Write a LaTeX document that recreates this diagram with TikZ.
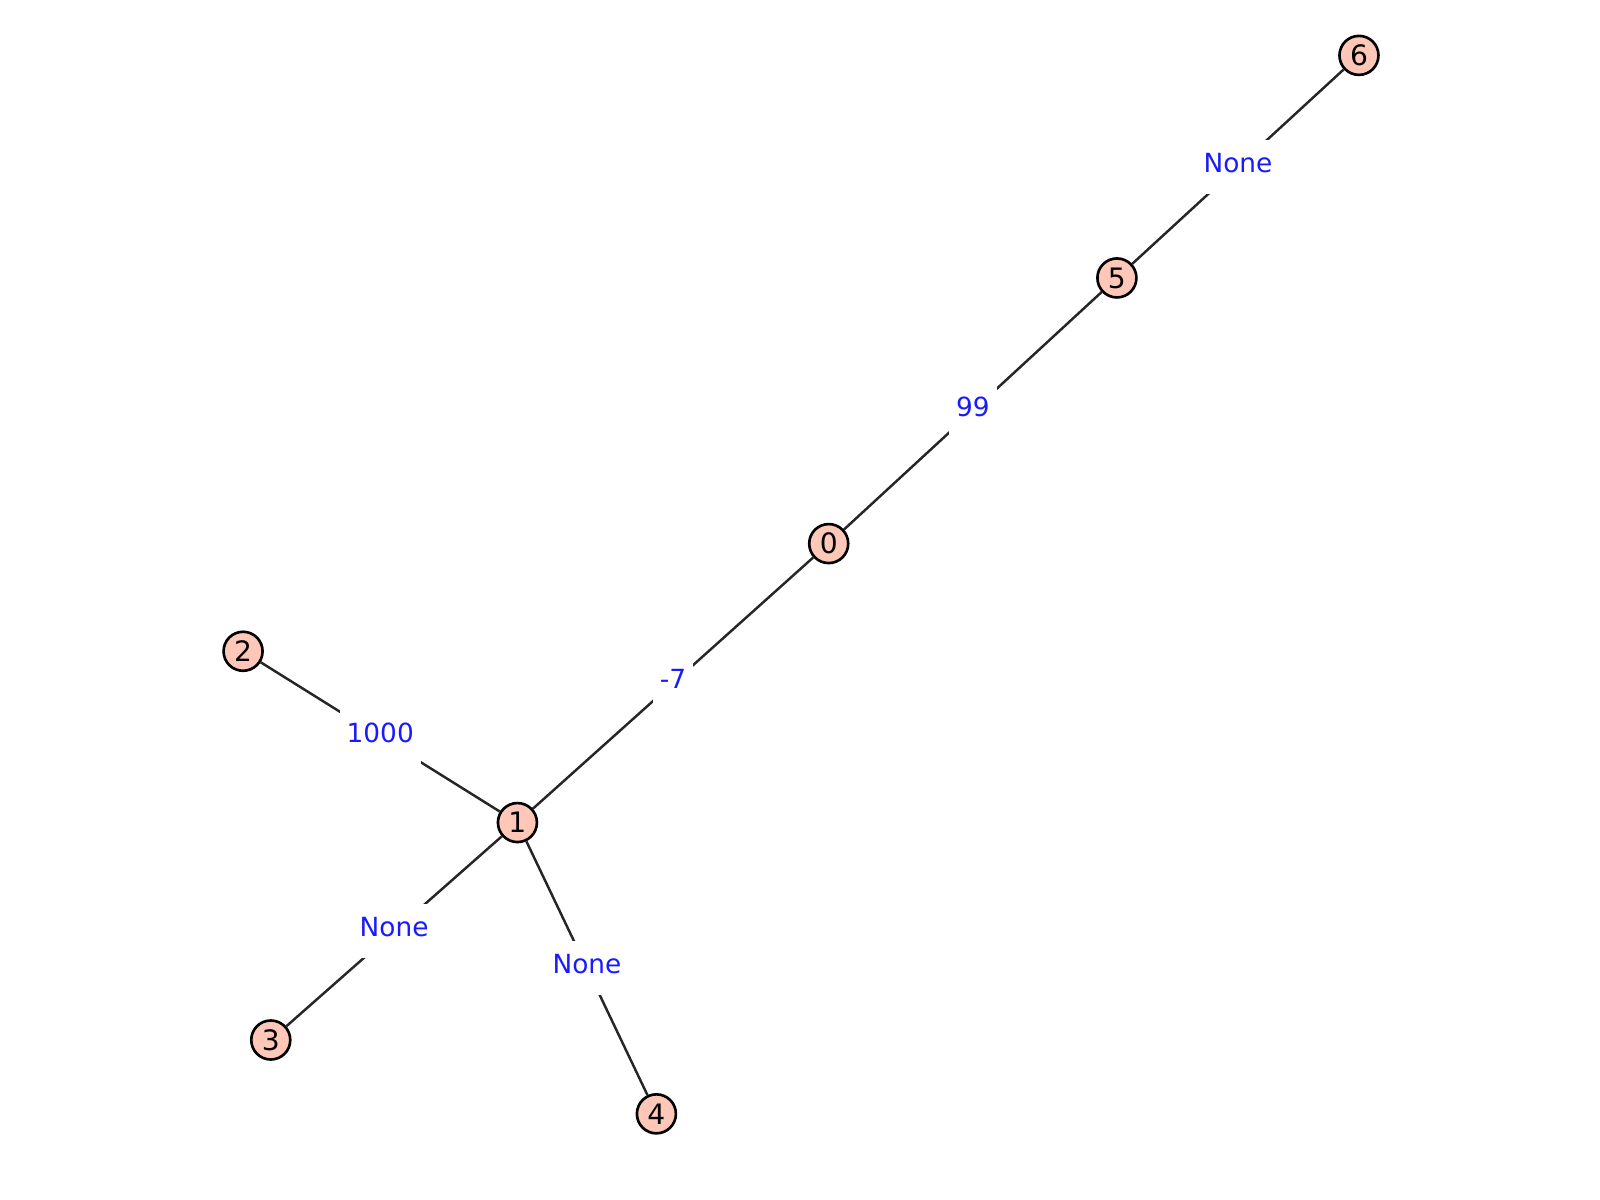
\documentclass[tikz,border=0pt]{standalone}
\usepackage{fontspec}
\setmainfont{DejaVu Sans}
\definecolor{vertexfill}{HTML}{FEC7B8}
\definecolor{labelblue}{HTML}{1A1AFF}
\tikzset{
  vertex/.style={circle, draw=black, line width=0.75pt, fill=vertexfill,
    minimum size=0.39cm, inner sep=0pt, font=\fontsize{8}{9}\selectfont},
  edge/.style={line width=0.7pt, color=black!85},
  weight/.style={fill=white, text=labelblue, inner xsep=2pt, inner ysep=0pt,
    text height=9.25pt, text depth=6.1pt, font=\fontsize{7.5}{9}\selectfont}
}
\begin{document}
\begin{tikzpicture}[x=0.010256cm, y=-0.010256cm]
      \useasboundingbox (0,0) rectangle (1560,1170);
      \node [vertex] (v0) at (808,530) {0};
      \node [vertex] (v1) at (504.5,802) {1};
      \node [vertex] (v2) at (237,635) {2};
      \node [vertex] (v3) at (264,1014) {3};
      \node [vertex] (v4) at (640,1086) {4};
      \node [vertex] (v5) at (1089,271) {5};
      \node [vertex] (v6) at (1325,54) {6};
      \draw [edge] (v0) -- node [weight] {-7} (v1);
      \draw [edge] (v0) -- node [weight] {99} (v5);
      \draw [edge] (v5) -- node [weight] {None} (v6);
      \draw [edge] (v2) -- node [weight] {1000} (v1);
      \draw [edge] (v1) -- node [weight] {None} (v3);
      \draw [edge] (v1) -- node [weight] {None} (v4);
    \end{tikzpicture}
\end{document}
